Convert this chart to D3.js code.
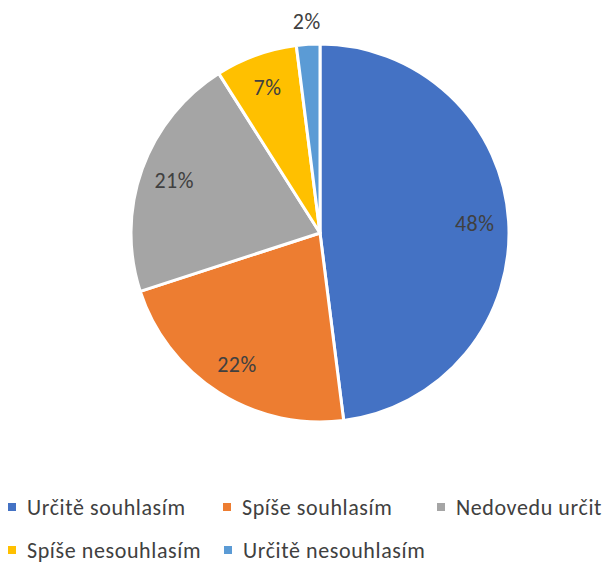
<!DOCTYPE html>
<html><head><meta charset="utf-8">
<script src="https://cdn.jsdelivr.net/npm/d3@7"></script>
<style>body{margin:0;background:#fff}svg{display:block}text{font-family:Carlito,Lato,"Open Sans",sans-serif;fill:#404040}</style>
</head><body><svg id="c" width="608" height="563"></svg>
<script>
const categories = ["Určitě souhlasím","Spíše souhlasím","Nedovedu určit","Spíše nesouhlasím","Určitě nesouhlasím"];
const values = [48,22,21,7,2];
const colors = ["#4472C4","#ED7D31","#A5A5A5","#FFC000","#5B9BD5"];

const svg = d3.select("#c");
const cx = 320, cy = 233, R = 189;
const g = svg.append("g").attr("transform",`translate(${cx},${cy})`);
const pie = d3.pie().sort(null).value(d=>d)(values);
const arc = d3.arc().innerRadius(0).outerRadius(R);
g.selectAll("path").data(pie).join("path")
  .attr("d",arc).attr("fill",(d,i)=>colors[i])
  .attr("stroke","#fff").attr("stroke-width",3).attr("stroke-linejoin","round");
const inner = d3.arc().innerRadius(155).outerRadius(155);
const outer = d3.arc().innerRadius(212).outerRadius(212);
g.selectAll("text.lbl").data(pie).join("text").attr("class","lbl")
  .attr("transform",d=>`translate(${(d.data<5?outer:inner).centroid(d)})`)
  .attr("text-anchor","middle").attr("dy","0.35em")
  .style("font-size","22px").style("letter-spacing","0.5px")
  .text(d=>d.data+"%");

const legX = [[8,223,437],[8,224]];
const rows = [507,550];
categories.forEach((c,i)=>{
  const r = i<3?0:1, k = i<3?i:i-3;
  const x = legX[r][k], y = rows[r];
  svg.append("rect").attr("x",x).attr("y",y-4).attr("width",8).attr("height",8).attr("fill",colors[i]);
  svg.append("text").attr("x",x+19).attr("y",y).attr("dy","0.35em")
    .style("font-size","22px").style("letter-spacing","0.6px").text(c);
});
</script></body></html>
